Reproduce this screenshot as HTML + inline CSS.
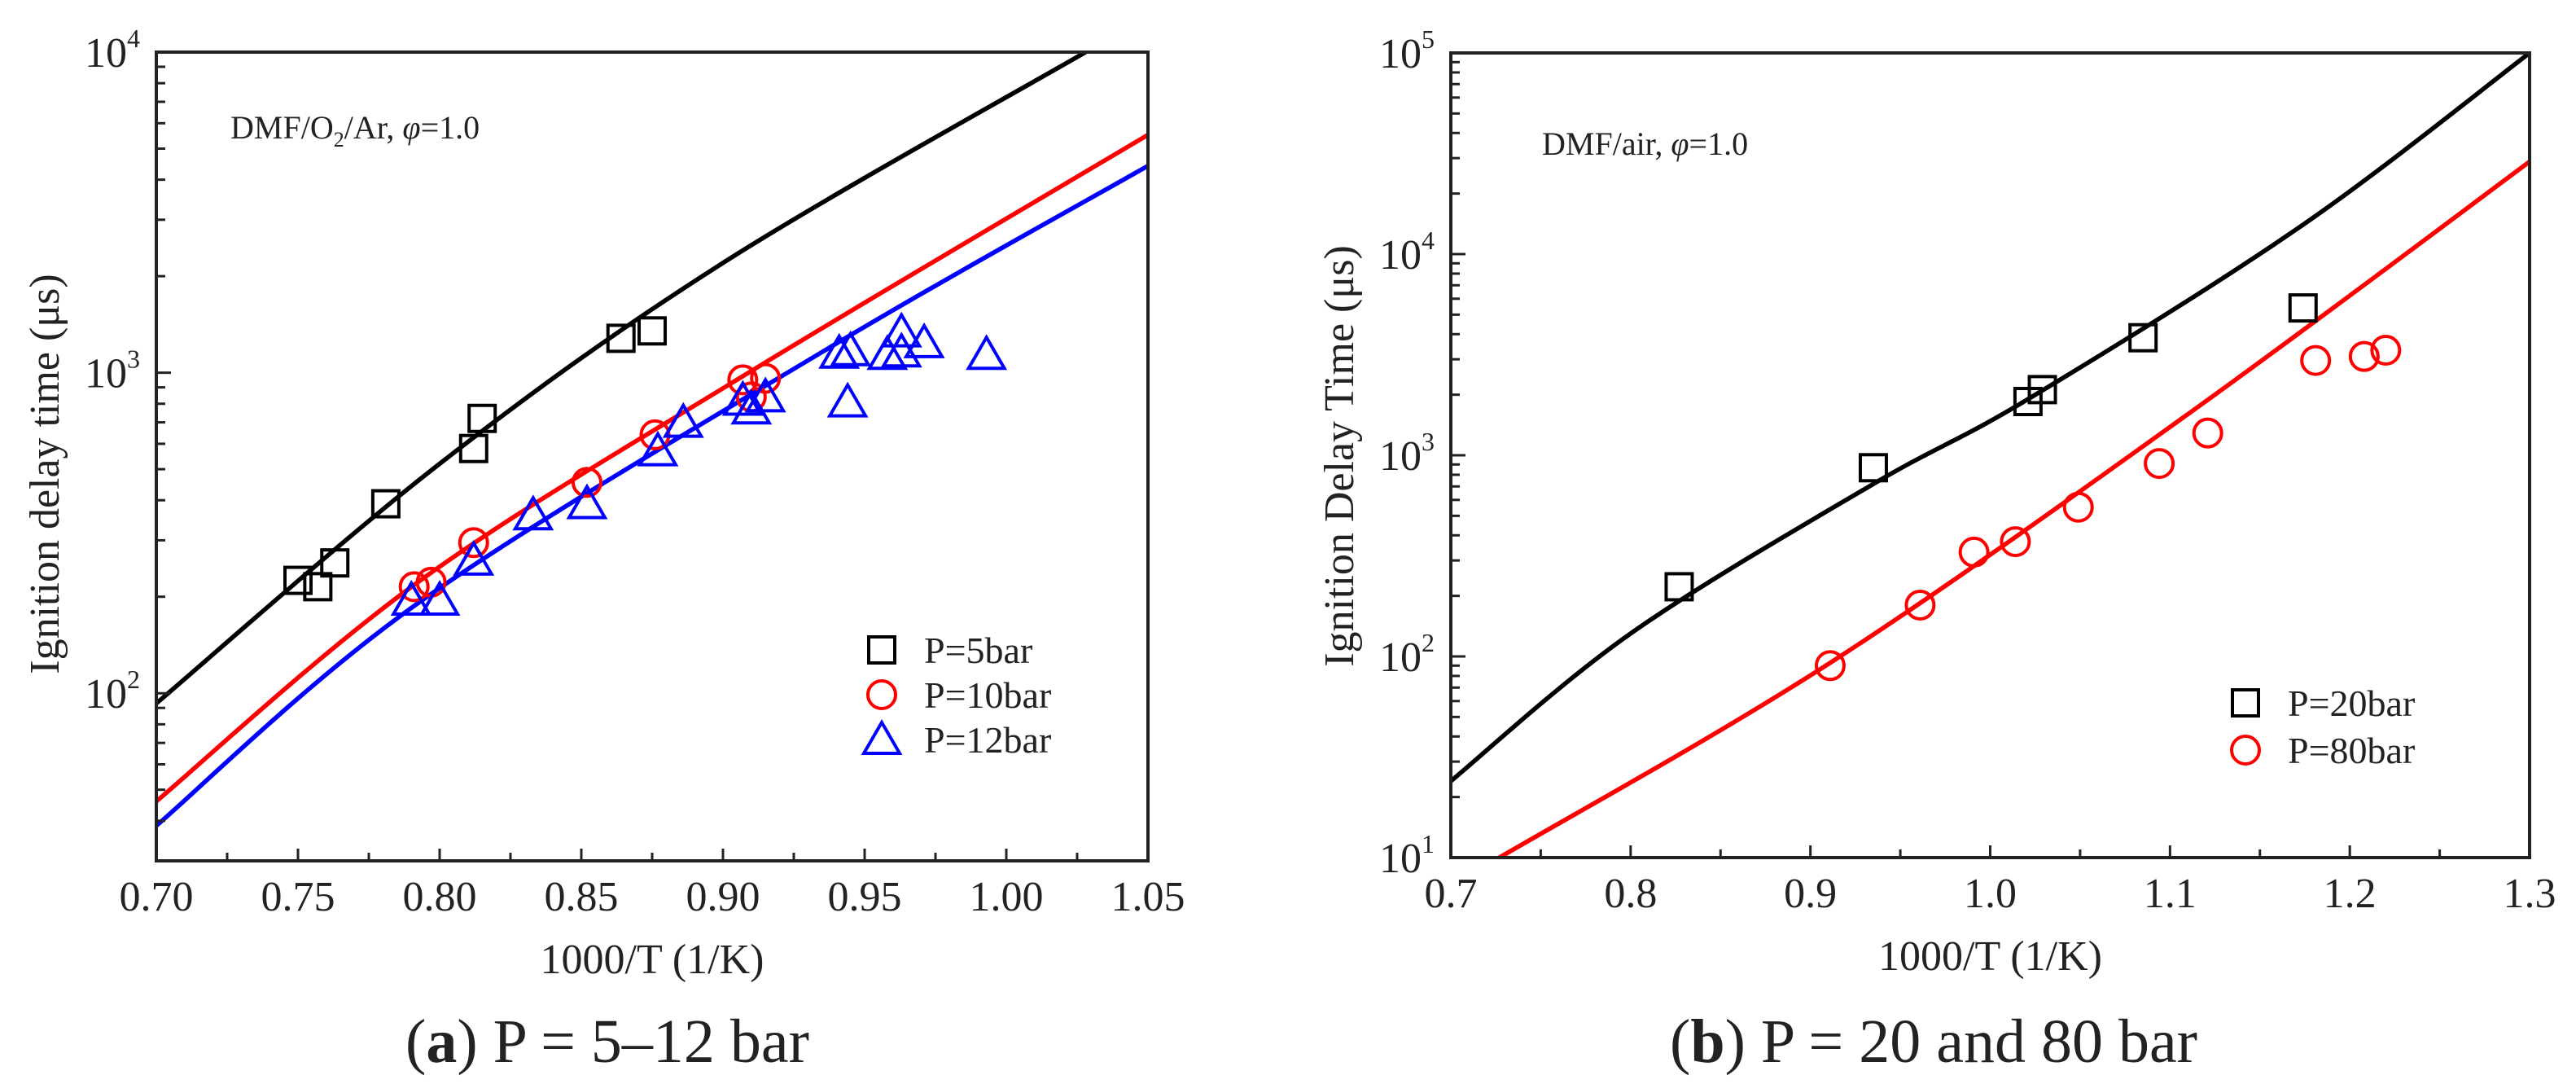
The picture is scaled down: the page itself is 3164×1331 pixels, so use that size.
<!DOCTYPE html>
<html><head><meta charset="utf-8">
<style>
html,body{margin:0;padding:0;background:#fff;}
svg{display:block;}
text{font-family:"Liberation Serif",serif;fill:#222;}
</style></head>
<body>
<svg id="fig" width="3164" height="1331" viewBox="0 0 3164 1331" xmlns="http://www.w3.org/2000/svg">
<rect width="3164" height="1331" fill="#fff"/>
</svg>
<script>
// ---------- Panel (a) data ----------
const aXTicks = [0.70,0.75,0.80,0.85,0.90,0.95,1.00,1.05];
const aXTickLabels = ["0.70","0.75","0.80","0.85","0.90","0.95","1.00","1.05"];
const aYDecades = [2,3,4];
const a5X = [0.750,0.757,0.763,0.781,0.812,0.815,0.864,0.875];
const a5Y = [225,215,255,390,580,720,1280,1350];
const a10X = [0.791,0.797,0.812,0.852,0.876,0.907,0.910,0.915];
const a10Y = [215,222,295,455,640,950,840,960];
const a12X = [0.790,0.800,0.812,0.833,0.852,0.877,0.886,0.907,0.910,0.915,0.941,0.945,0.944,0.958,0.963,0.963,0.971,0.993];
const a12Y = [195,195,260,360,390,570,700,820,770,840,1150,1170,810,1140,1160,1340,1240,1140];
const a5LineX = [0.700,0.800,0.900,1.028];
const a5LineY = [93,520,2200,10000];
const a10LineX = [0.700,0.792,0.907,1.050];
const a10LineY = [46,221,975,5520];
const a12LineX = [0.700,0.792,0.935,1.050];
const a12LineY = [38.6,190,1160,4420];
// ---------- Panel (b) data ----------
const bXTicks = [0.7,0.8,0.9,1.0,1.1,1.2,1.3];
const bXTickLabels = ["0.7","0.8","0.9","1.0","1.1","1.2","1.3"];
const bYDecades = [1,2,3,4,5];
const b20X = [0.827,0.935,1.021,1.029,1.085,1.174];
const b20Y = [222,867,1850,2120,3840,5400];
const b80X = [0.911,0.961,0.991,1.014,1.049,1.094,1.121,1.181,1.208,1.220];
const b80Y = [90,180,330,372,552,910,1290,2960,3100,3330];
const b20LineX = [0.700,0.800,0.935,1.021,1.174,1.300];
const b20LineY = [24,130,720,1900,14000,100000];
const b80LineX = [0.727,0.911,1.112,1.300];
const b80LineY = [10,93,1650,28800];

const NS="http://www.w3.org/2000/svg";
const svg=document.getElementById('fig');
function mk(tag,attrs,parent){const e=document.createElementNS(NS,tag);for(const k in attrs)e.setAttribute(k,attrs[k]);(parent||svg).appendChild(e);return e;}
function smooth(pts){
  let d='M'+pts[0][0].toFixed(1)+','+pts[0][1].toFixed(1);
  for(let i=0;i<pts.length-1;i++){
    const p0=pts[Math.max(0,i-1)],p1=pts[i],p2=pts[i+1],p3=pts[Math.min(pts.length-1,i+2)];
    const c1=[p1[0]+(p2[0]-p0[0])/6,p1[1]+(p2[1]-p0[1])/6];
    const c2=[p2[0]-(p3[0]-p1[0])/6,p2[1]-(p3[1]-p1[1])/6];
    d+=' C'+c1[0].toFixed(1)+','+c1[1].toFixed(1)+' '+c2[0].toFixed(1)+','+c2[1].toFixed(1)+' '+p2[0].toFixed(1)+','+p2[1].toFixed(1);
  }
  return d;
}

function panel(cfg){
  const g=mk('g',{});
  
  
  const {x0,x1,y0,y1,xmin,xmax,lmin,lmax}=cfg;
  const sx=v=>x0+(v-xmin)/(xmax-xmin)*(x1-x0);
  const sy=v=>y1-(Math.log10(v)-lmin)/(lmax-lmin)*(y1-y0);
  const clip='clip-'+cfg.name;
  const cp=mk('clipPath',{id:clip},g);mk('rect',{x:x0,y:y0,width:x1-x0,height:y1-y0},cp);
  cfg.lines.forEach(L=>{
    const pts=L.xs.map((v,i)=>[sx(v),sy(L.ys[i])]);
    const p=mk('path',{d:smooth(pts),fill:'none',stroke:L.color,'stroke-width':5.5,'stroke-linejoin':'round','clip-path':'url(#'+clip+')'},g);
    
    
  });
  cfg.series.forEach(S=>{
    S.xs.forEach((v,i)=>{
      const m=marker(g,S.shape,S.color,sx(v),sy(S.ys[i]));
      
      
    });
  });
  const fr=mk('rect',{x:x0,y:y0,width:x1-x0,height:y1-y0,fill:'none',stroke:'#222','stroke-width':4},g);
  
  
  cfg.xTicks.forEach((v,i)=>{
    const X=sx(v);
    mk('line',{x1:X,y1:y1,x2:X,y2:y1-15,stroke:'#222','stroke-width':3},g);
    if(i<cfg.xTicks.length-1){const Xm=sx(v+cfg.xStep/2);mk('line',{x1:Xm,y1:y1,x2:Xm,y2:y1-10,stroke:'#222','stroke-width':3},g);}
    const t=mk('text',{x:X,y:y1+61,'text-anchor':'middle','font-size':52},g);
    t.textContent=cfg.xTickLabels[i];
    
    
  });
  for(let d=Math.floor(lmin);d<=lmax;d++){
    for(let k=1;k<10;k++){
      const v=k*Math.pow(10,d);const l=Math.log10(v);
      if(l<lmin-1e-9||l>lmax+1e-9)continue;
      const Y=sy(v);
      mk('line',{x1:x0,y1:Y,x2:x0+(k==1?18:11),y2:Y,stroke:'#222','stroke-width':3},g);
    }
  }
  cfg.yDecades.forEach(d=>{
    const Y=sy(Math.pow(10,d));
    const t=mk('text',{x:x0-20,y:Y+18,'text-anchor':'end','font-size':52},g);
    t.textContent='10';
    const s=mk('tspan',{dy:-24,'font-size':32},t);s.textContent=String(d);
    
    
  });
  const xt=mk('text',{x:(x0+x1)/2,y:y1+138,'text-anchor':'middle','font-size':52},g);
  xt.textContent='1000/T (1/K)';
  
  
  const yt=mk('text',{x:0,y:0,'text-anchor':'middle','font-size':52,transform:'translate('+cfg.ytX+','+cfg.ytY+') rotate(-90)'},g);
  yt.textContent=cfg.yTitle;
  
  
  const it=mk('text',{x:cfg.insetX,y:cfg.insetY,'font-size':40},g);
  it.innerHTML=cfg.inset;
  
  
  cfg.series.forEach((S,i)=>{
    const Y=cfg.legY+i*cfg.legDy;
    const m=marker(g,S.shape,S.color,cfg.legX,Y);
    
    
    const t=mk('text',{x:cfg.legX+52,y:Y+16,'font-size':46},g);
    t.textContent=S.label;
    
    
  });
  const c=mk('text',{x:cfg.capX,y:1304,'text-anchor':'middle','font-size':76},g);
  c.innerHTML=cfg.caption;
  
  
}
function marker(g,shape,color,x,y){
  if(shape==='square')return mk('rect',{x:x-16,y:y-16,width:32,height:32,fill:'none',stroke:color,'stroke-width':4},g);
  if(shape==='circle')return mk('circle',{cx:x,cy:y,r:17,fill:'none',stroke:color,'stroke-width':4},g);
  return mk('path',{d:'M'+x+','+(y-21)+' L'+(x+22)+','+(y+17)+' L'+(x-22)+','+(y+17)+' Z',fill:'none',stroke:color,'stroke-width':4,'stroke-linejoin':'miter'},g);
}

panel({name:'panel-a',x0:192,x1:1410,y0:64,y1:1057,xmin:0.70,xmax:1.05,lmin:Math.log10(30),lmax:4,
  xTicks:aXTicks,xTickLabels:aXTickLabels,xStep:0.05,yDecades:aYDecades,
  lines:[{name:'p5-model-line',xs:a5LineX,ys:a5LineY,color:'#000'},{name:'p10-model-line',xs:a10LineX,ys:a10LineY,color:'#f00'},{name:'p12-model-line',xs:a12LineX,ys:a12LineY,color:'#00f'}],
  series:[{name:'p5',label:'P=5bar',xs:a5X,ys:a5Y,color:'#000',shape:'square'},{name:'p10',label:'P=10bar',xs:a10X,ys:a10Y,color:'#f00',shape:'circle'},{name:'p12',label:'P=12bar',xs:a12X,ys:a12Y,color:'#00f',shape:'triangle'}],
  ytX:72,ytY:582,yTitle:'Ignition delay time (μs)',
  insetX:283,insetY:170,inset:'DMF/O<tspan dy="10" font-size="26">2</tspan><tspan dy="-10">/Ar, </tspan><tspan font-style="italic">φ</tspan>=1.0',
  legX:1083,legY:798,legDy:55,capX:746,
  caption:'(<tspan font-weight="bold">a</tspan>) P = 5–12 bar'});

panel({name:'panel-b',x0:1782,x1:3107,y0:65,y1:1053,xmin:0.7,xmax:1.3,lmin:1,lmax:5,
  xTicks:bXTicks,xTickLabels:bXTickLabels,xStep:0.1,yDecades:bYDecades,
  lines:[{name:'p20-model-line',xs:b20LineX,ys:b20LineY,color:'#000'},{name:'p80-model-line',xs:b80LineX,ys:b80LineY,color:'#f00'}],
  series:[{name:'p20',label:'P=20bar',xs:b20X,ys:b20Y,color:'#000',shape:'square'},{name:'p80',label:'P=80bar',xs:b80X,ys:b80Y,color:'#f00',shape:'circle'}],
  ytX:1662,ytY:560,yTitle:'Ignition Delay Time (μs)',
  insetX:1894,insetY:190,inset:'DMF/air, <tspan font-style="italic">φ</tspan>=1.0',
  legX:2758,legY:863,legDy:58,capX:2375,
  caption:'(<tspan font-weight="bold">b</tspan>) P = 20 and 80 bar'});
</script>
</body></html>
